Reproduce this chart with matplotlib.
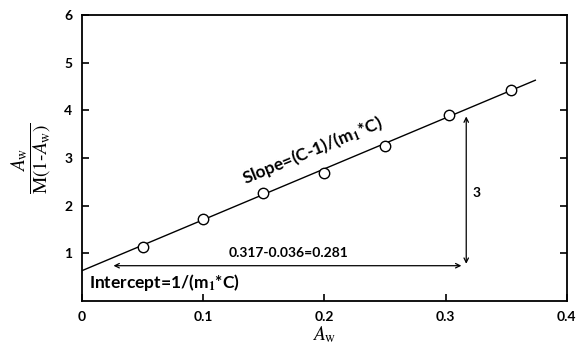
import numpy as np
import matplotlib
matplotlib.use("Agg")
import matplotlib.pyplot as plt

# -----------------------------
# Data
# -----------------------------
aw = [0.050, 0.100, 0.149, 0.200, 0.250, 0.303, 0.354]
y_vals = [1.13, 1.72, 2.27, 2.69, 3.26, 3.91, 4.43]

# fitted line
fit_intercept = 0.636
fit_slope = 10.68
fit_x = [0.0, 0.374]

x_ticks = [0, 0.1, 0.2, 0.3, 0.4]
x_ticklabels = ["0", "0.1", "0.2", "0.3", "0.4"]
y_ticks = [1, 2, 3, 4, 5, 6]

# annotation geometry
h_arrow = (0.026, 0.313, 0.74)   # x0, x1, y
v_arrow = (0.317, 0.78, 3.87)    # x, y0, y1

plt.rcParams["font.family"] = ["Lato", "DejaVu Sans"]
plt.rcParams["mathtext.fontset"] = "stix"

fig = plt.figure(figsize=(5.79, 3.47), dpi=100)
ax = fig.add_axes([0.1416, 0.1326, 0.8374, 0.8244])

# fit line and points
fx = np.array(fit_x)
ax.plot(fx, fit_intercept + fit_slope * fx, color="black", lw=1.0, zorder=2)
ax.plot(aw, y_vals, "o", ms=7.5, mfc="white", mec="black", mew=1.0, zorder=3)

# arrows
ax.annotate("", xy=(h_arrow[0], h_arrow[2]), xytext=(h_arrow[1], h_arrow[2]),
            arrowprops=dict(arrowstyle="<->", lw=0.9, color="black",
                            shrinkA=0, shrinkB=0, mutation_scale=8))
ax.annotate("", xy=(v_arrow[0], v_arrow[1]), xytext=(v_arrow[0], v_arrow[2]),
            arrowprops=dict(arrowstyle="<->", lw=0.9, color="black",
                            shrinkA=0, shrinkB=0, mutation_scale=8))

# texts
ax.text(0.17, 1.0, "0.317-0.036=0.281", fontsize=10, fontweight="bold",
        ha="center", va="center")
ax.text(0.322, 2.27, "3", fontsize=10, fontweight="bold", ha="left", va="center")
ax.text(0.006, 0.38, r"Intercept=1/(m$_\mathbf{1}$*C)", fontsize=12.5,
        fontweight="bold", ha="left", va="center")
ax.text(0.19, 3.15, r"Slope=(C-1)/(m$_\mathbf{1}$*C)", fontsize=12.5,
        fontweight="bold", ha="center", va="center", rotation=22.5,
        rotation_mode="anchor")

# axes
ax.set_xlim(0, 0.4)
ax.set_ylim(0, 6)
ax.set_xticks(x_ticks)
ax.set_xticklabels(x_ticklabels)
ax.set_yticks(y_ticks)
ax.tick_params(axis="both", direction="in", length=5, width=1.2,
               labelsize=10, pad=7)
ax.tick_params(axis="y", right=True)
for lab in ax.get_xticklabels() + ax.get_yticklabels():
    lab.set_fontweight("bold")
for sp in ax.spines.values():
    sp.set_linewidth(1.3)

ax.set_xlabel(r"$\mathit{A}_{\mathrm{w}}$", fontsize=14, labelpad=1)
ax.set_ylabel(r"$\dfrac{\mathit{A}_{\mathrm{w}}}{\mathrm{M}(1\text{-}\mathit{A}_{\mathrm{w}})}$",
              fontsize=14, labelpad=8)

fig.savefig("out.png", dpi=100)
